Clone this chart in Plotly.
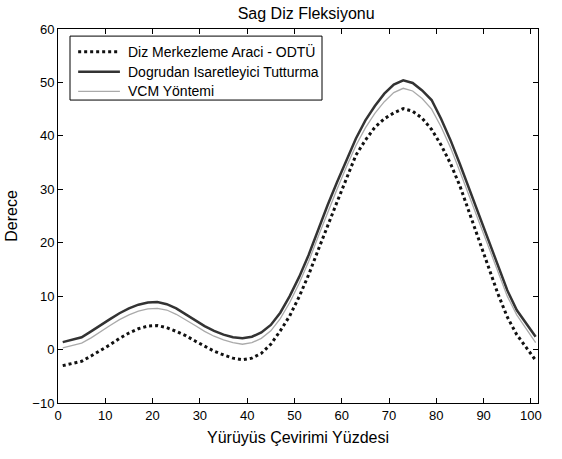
import plotly.graph_objects as go

x_pct = [1, 3, 5, 7, 9, 11, 13, 15, 17, 19, 21, 23, 25, 27, 29, 31, 33, 35, 37, 39,
         41, 43, 45, 47, 49, 51, 53, 55, 57, 59, 61, 63, 65, 67, 69, 71, 73, 75, 77, 79,
         81, 83, 85, 87, 89, 91, 93, 95, 97, 99, 101]

diz_odtu = [-3.0, -2.6, -2.2, -1.2, -0.2, 0.9, 2.1, 3.1, 3.9, 4.4, 4.5, 4.1, 3.4, 2.6, 1.6,
            0.6, -0.3, -1.0, -1.6, -1.9, -1.6, -0.7, 1.0, 3.5, 6.3, 9.9, 14.0, 18.6, 23.3,
            27.6, 32.0, 36.4, 39.2, 41.6, 43.2, 44.3, 45.1, 44.6, 43.3, 41.2, 38.3, 34.8,
            30.6, 25.5, 20.6, 15.3, 10.5, 6.1, 2.8, 0.4, -2.0]

dogrudan = [1.4, 1.8, 2.3, 3.4, 4.6, 5.7, 6.8, 7.7, 8.4, 8.8, 8.9, 8.5, 7.7, 6.6, 5.5,
            4.4, 3.5, 2.8, 2.3, 2.1, 2.4, 3.2, 4.6, 6.9, 10.0, 13.6, 17.7, 22.4, 27.0,
            31.3, 35.5, 39.5, 42.9, 45.6, 47.9, 49.6, 50.4, 49.9, 48.5, 46.7, 43.2, 39.2,
            34.7, 30.0, 25.3, 20.7, 15.7, 11.1, 7.4, 4.9, 2.4]

vcm = [0.3, 0.7, 1.2, 2.2, 3.4, 4.5, 5.6, 6.5, 7.2, 7.6, 7.7, 7.4, 6.6, 5.6, 4.5,
       3.4, 2.5, 1.8, 1.3, 1.0, 1.3, 2.1, 3.5, 5.8, 8.8, 12.4, 16.5, 21.1, 25.7,
       30.0, 34.2, 38.2, 41.5, 44.2, 46.4, 48.1, 48.9, 48.4, 47.0, 45.0, 41.7, 37.8,
       33.3, 28.6, 23.9, 19.2, 14.4, 10.0, 6.5, 3.9, 1.3]

names = ["Diz Merkezleme Araci - ODTÜ", "Dogrudan Isaretleyici Tutturma", "VCM Yöntemi"]
x_ticks = [0, 10, 20, 30, 40, 50, 60, 70, 80, 90, 100]
y_ticks = [-10, 0, 10, 20, 30, 40, 50, 60]

FONT = "Liberation Sans, Arial, Helvetica, sans-serif"

styles = [dict(color="#111111", width=3, dash="dot"),
          dict(color="#333333", width=2.5),
          dict(color="#aaaaaa", width=1.3)]
series = [diz_odtu, dogrudan, vcm]

fig = go.Figure()
for nm, ys, st in zip(names, series, styles):
    fig.add_trace(go.Scatter(x=x_pct, y=ys, mode="lines", name=nm, line=st,
                             showlegend=False))

# Legend drawn as a box with line samples and text (MATLAB style)
shapes = [dict(type="rect", xref="paper", yref="paper", x0=0.025, x1=0.55,
               y0=0.810, y1=0.981, line=dict(color="black", width=1),
               fillcolor="white", layer="above")]
annotations = []
row_y = [0.939, 0.886, 0.833]
for nm, st, ry in zip(names, styles, row_y):
    shapes.append(dict(type="line", xref="paper", yref="paper", x0=0.042, x1=0.129,
                       y0=ry, y1=ry, line=st, layer="above"))
    annotations.append(dict(text=nm, xref="paper", yref="paper", x=0.142, y=ry,
                            xanchor="left", yanchor="middle", showarrow=False,
                            font=dict(family=FONT, size=14, color="black")))

axis_common = dict(showline=True, linecolor="black", linewidth=1, mirror="ticks",
                   ticks="inside", ticklen=5, tickcolor="black", showgrid=False,
                   zeroline=False, tickfont=dict(family=FONT, size=13, color="black"))

fig.update_layout(
    width=562, height=459,
    margin=dict(l=58, r=24, t=29, b=56),
    paper_bgcolor="white", plot_bgcolor="white",
    font=dict(family=FONT, color="black"),
    title=dict(text="Sag Diz Fleksiyonu", xref="paper", x=0.517, xanchor="center",
               y=0.97, yanchor="middle",
               font=dict(family=FONT, size=16, color="black")),
    xaxis=dict(range=[0, 101.5], tickvals=x_ticks, **axis_common,
               title=dict(text="Yürüyüs Çevirimi Yüzdesi", standoff=10,
                          font=dict(family=FONT, size=16, color="black"))),
    yaxis=dict(range=[-10, 60], tickvals=y_ticks, **axis_common,
               title=dict(text="Derece", standoff=10,
                          font=dict(family=FONT, size=16, color="black"))),
    shapes=shapes,
    annotations=annotations,
    showlegend=False,
)

fig.write_html("out.html")
